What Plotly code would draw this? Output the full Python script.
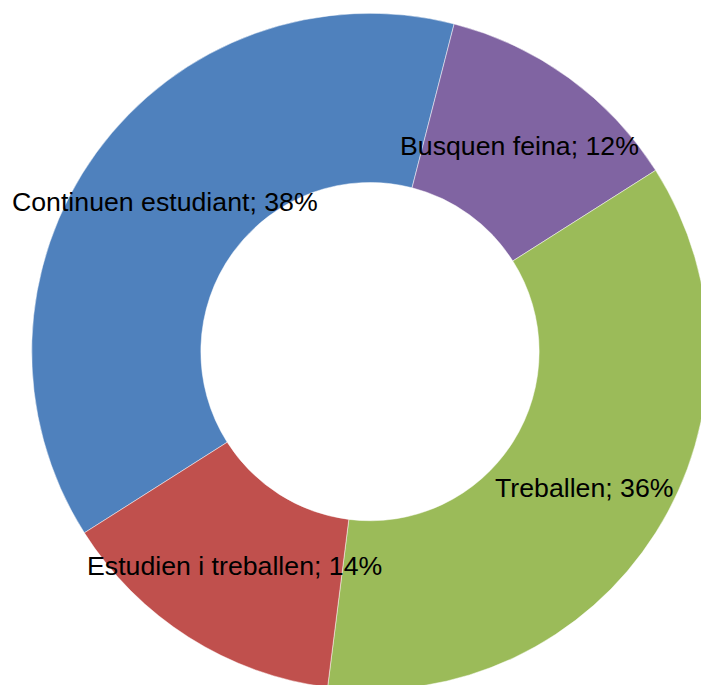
import math

import plotly.graph_objects as go

# data
categories = ["Continuen estudiant", "Busquen feina", "Treballen", "Estudien i treballen"]
percent = [38, 12, 36, 14]
colors = ["#4F81BD", "#8064A2", "#9BBB59", "#C0504D"]

# the original ring is cut off by the right and bottom edges, so the figure
# is a bit larger than the window and the overflow is hidden
W, H = 710, 690
DOMAIN_X = [31.7 / W, 708.3 / W]
DOMAIN_Y = [1 - 689.9 / H, 1 - 13.3 / H]
HOLE = 0.5
ROTATION = 237.6  # degrees clockwise from 12 o'clock where the first slice starts

fig = go.Figure(
    go.Pie(
        labels=categories,
        values=percent,
        sort=False,
        direction="clockwise",
        rotation=ROTATION,
        hole=HOLE,
        marker=dict(colors=colors, line=dict(color="rgba(255,255,255,0.6)", width=0.8)),
        textinfo="none",
        hoverinfo="label+percent",
        domain=dict(x=DOMAIN_X, y=DOMAIN_Y),
        showlegend=False,
    )
)

# labels sit at the middle of each ring segment, like the original chart
cx_px = (DOMAIN_X[0] + DOMAIN_X[1]) / 2 * W
cy_px = (1 - (DOMAIN_Y[0] + DOMAIN_Y[1]) / 2) * H
radius = min((DOMAIN_X[1] - DOMAIN_X[0]) * W, (DOMAIN_Y[1] - DOMAIN_Y[0]) * H) / 2
label_r = radius * (1 + HOLE) / 2

total = sum(percent)
start = ROTATION
for name, val in zip(categories, percent):
    mid = math.radians(start + 360 * val / total / 2)
    x_px = cx_px + label_r * math.sin(mid)
    y_px = cy_px - label_r * math.cos(mid)
    fig.add_annotation(
        x=x_px / W,
        y=1 - y_px / H,
        xref="paper",
        yref="paper",
        text=f"{name}; {round(100 * val / total)}%",
        showarrow=False,
        xanchor="center",
        yanchor="middle",
        font=dict(family="Liberation Sans, Arial, sans-serif", size=26.7, color="#000000"),
    )
    start += 360 * val / total

fig.update_layout(
    width=W,
    height=H,
    margin=dict(l=0, r=0, t=0, b=0),
    paper_bgcolor="white",
    plot_bgcolor="white",
)

fig.write_html(
    "out.html",
    config={"displayModeBar": False},
    post_script="document.body.style.margin='0';document.documentElement.style.overflow='hidden';",
)
